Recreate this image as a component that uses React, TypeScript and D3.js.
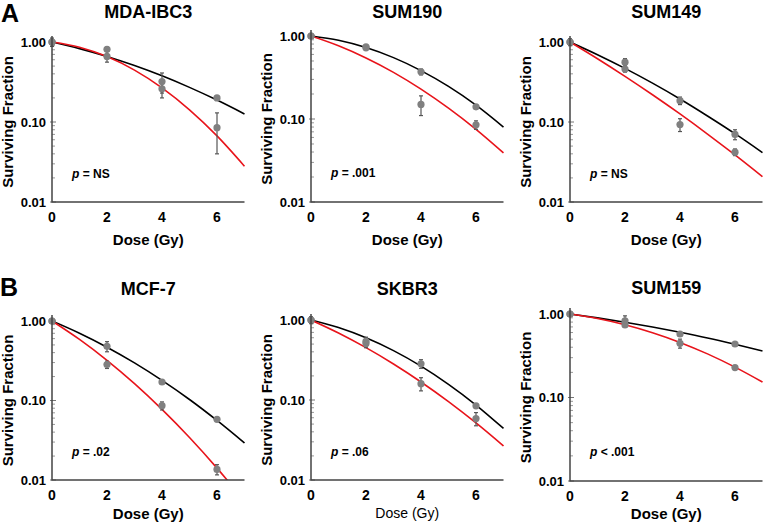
import * as d3 from 'd3';
import React from 'react';

// doses where colonies were counted
const doses = [0, 2, 4, 6];
// fitted-curve sample doses
const fitDoses = [0, 1, 2, 3, 4, 5, 6, 7];
const yTicks = [1, 0.1, 0.01];
const yTickLabels = ['1.00', '0.10', '0.01'];
const xTicks = [0, 2, 4, 6];

const cellLines = ['MDA-IBC3', 'SUM190', 'SUM149', 'MCF-7', 'SKBR3', 'SUM159'];
const pLabels = ['= NS', '= .001', '= NS', '= .02', '= .06', '< .001'];

// control (black) means and errors
const ctrlMean = [
  [1, 0.81, 0.32, 0.2],
  [1, 0.74, 0.37, 0.14],
  [1, 0.46, 0.185, 0.07],
  [1, 0.48, 0.171, 0.058],
  [1, 0.54, 0.284, 0.0845],
  [1, 0.83, 0.576, 0.437],
];
const ctrlErr = [
  [0.12, 0.05, 0.09, 0.01],
  [0.05, 0.04, 0.03, 0.008],
  [0.1, 0.04, 0.02, 0.01],
  [0.04, 0.07, 0.01, 0.003],
  [0.1, 0.07, 0.035, 0.005],
  [0.02, 0.12, 0.02, 0.015],
];
// treated (red) means and errors
const trtMean = [
  [1, 0.66, 0.26, 0.085],
  [1, 0.72, 0.15, 0.085],
  [1, 0.56, 0.093, 0.042],
  [1, 0.283, 0.086, 0.0136],
  [1, 0.51, 0.16, 0.0586],
  [1, 0.74, 0.445, 0.228],
];
const trtErr = [
  [0.08, 0.1, 0.06, 0.045],
  [0.03, 0.03, 0.04, 0.01],
  [0.06, 0.06, 0.017, 0.004],
  [0.03, 0.03, 0.01, 0.002],
  [0.06, 0.06, 0.03, 0.011],
  [0.02, 0.04, 0.055, 0.01],
];
// fitted LQ curves read at 0..7 Gy
const ctrlFit = [
  [1, 0.826, 0.66, 0.508, 0.378, 0.271, 0.188, 0.126],
  [1, 0.887, 0.726, 0.549, 0.383, 0.247, 0.147, 0.08],
  [1, 0.694, 0.468, 0.306, 0.194, 0.119, 0.0714, 0.0414],
  [1, 0.701, 0.468, 0.297, 0.179, 0.103, 0.0561, 0.0292],
  [1, 0.804, 0.599, 0.414, 0.265, 0.157, 0.0865, 0.0441],
  [1, 0.899, 0.798, 0.699, 0.604, 0.516, 0.434, 0.361],
];
const trtFit = [
  [1, 0.861, 0.657, 0.445, 0.267, 0.142, 0.067, 0.028],
  [1, 0.762, 0.544, 0.365, 0.229, 0.135, 0.075, 0.039],
  [1, 0.618, 0.372, 0.219, 0.126, 0.0707, 0.0387, 0.0207],
  [1, 0.586, 0.32, 0.163, 0.0773, 0.0342, 0.0141, 0.00544],
  [1, 0.688, 0.451, 0.282, 0.168, 0.0954, 0.0516, 0.0266],
  [1, 0.883, 0.744, 0.597, 0.457, 0.333, 0.231, 0.153],
];

const panels = [
  { x0: 52, top: 42, bot: 202, titleY: 18, xLabY: 245 },
  { x0: 311, top: 36, bot: 202, titleY: 18, xLabY: 245 },
  { x0: 570, top: 42, bot: 202, titleY: 18, xLabY: 245 },
  { x0: 52, top: 321, bot: 480, titleY: 295, xLabY: 519 },
  { x0: 311, top: 320, bot: 480, titleY: 295, xLabY: 518 },
  { x0: 570, top: 314, bot: 481, titleY: 294, xLabY: 519 },
];

const FONT = 'Liberation Sans, Arial, sans-serif';
const RED = '#e8141b';

function Panel({ i }: { i: number }) {
  const p = panels[i];
  const x = d3.scaleLinear().domain([0, 7]).range([p.x0, p.x0 + 7 * 27.5]);
  const y = d3.scaleLog().domain([0.01, 1]).range([p.bot, p.top]);
  const line = d3.line<number>()
    .x((_, k) => x(fitDoses[k]))
    .y(d => y(d))
    .curve(d3.curveMonotoneX);
  const minor: number[] = [];
  [0.01, 0.1].forEach(b => { for (let m = 2; m <= 9; m++) minor.push(b * m); });
  const clipId = 'clip' + i;
  const cx = (p.x0 + x(7)) / 2;
  const cy = (p.top + p.bot) / 2;

  const errBars = (means: number[], errs: number[]) => means.map((m, k) => {
    const lo = Math.max(m - errs[k], 0.005);
    const hi = m + errs[k];
    const px = x(doses[k]);
    return (
      <g key={k} stroke="#555" strokeWidth={1.2}>
        <line x1={px} x2={px} y1={y(lo)} y2={y(hi)} />
        <line x1={px - 2} x2={px + 2} y1={y(lo)} y2={y(lo)} />
        <line x1={px - 2} x2={px + 2} y1={y(hi)} y2={y(hi)} />
      </g>
    );
  });
  const dots = (means: number[]) => means.map((m, k) => (
    <circle key={k} cx={x(doses[k])} cy={y(m)} r={3.6} fill="#808080" />
  ));

  return (
    <g fontFamily={FONT} fontWeight="bold">
      <defs>
        <clipPath id={clipId}>
          <rect x={p.x0} y={p.top - 12} width={x(7) - p.x0 + 2} height={p.bot - p.top + 12} />
        </clipPath>
      </defs>
      <text x={cx} y={p.titleY} fontSize={18} textAnchor="middle">{cellLines[i]}</text>
      {/* minor ticks */}
      {minor.map((v, k) => (
        <line key={k} x1={p.x0} x2={p.x0 + 3} y1={y(v)} y2={y(v)} stroke="#999" strokeWidth={1} />
      ))}
      {yTicks.map((v, k) => (
        <g key={k}>
          <line x1={p.x0 - 2} x2={p.x0 + 4} y1={y(v)} y2={y(v)} stroke="#777" strokeWidth={1} />
          <text x={p.x0 - 6} y={y(v)} dy="0.36em" fontSize={13} textAnchor="end">{yTickLabels[k]}</text>
        </g>
      ))}
      {xTicks.map(v => (
        <text key={v} x={x(v)} y={p.bot + 20} fontSize={14} textAnchor="middle">{v}</text>
      ))}
      <g clipPath={`url(#${clipId})`} fill="none" strokeWidth={1.6}>
        <path d={line(ctrlFit[i]) || ''} stroke="#000" />
        <path d={line(trtFit[i]) || ''} stroke={RED} />
      </g>
      {errBars(ctrlMean[i], ctrlErr[i])}
      {errBars(trtMean[i], trtErr[i])}
      {dots(ctrlMean[i])}
      {dots(trtMean[i])}
      <path d={`M${p.x0},${p.top - 6}V${p.bot}H${x(7)}`} fill="none" stroke="#444" strokeWidth={1.5} />
      <text x={p.x0 + 20} y={p.top + (p.bot - p.top) * 0.85} fontSize={12}>
        <tspan fontStyle="italic">p</tspan> {pLabels[i]}
      </text>
      <text x={cx} y={p.xLabY} fontSize={i === 4 ? 14 : 15} fontWeight={i === 4 ? 'normal' : 'bold'} textAnchor="middle">Dose (Gy)</text>
      <text transform={`translate(${p.x0 - 39},${cy}) rotate(-90)`} fontSize={15} textAnchor="middle">Surviving Fraction</text>
    </g>
  );
}

export default function App() {
  return (
    <svg width={765} height={524} style={{ position: 'absolute', left: 0, top: 0, background: '#fff' }}>
      <rect width={765} height={524} fill="#fff" />
      <text x={1} y={22} fontSize={25} fontWeight="bold" fontFamily={FONT}>A</text>
      <text x={0} y={296} fontSize={25} fontWeight="bold" fontFamily={FONT}>B</text>
      {cellLines.map((_, i) => <Panel key={i} i={i} />)}
    </svg>
  );
}
